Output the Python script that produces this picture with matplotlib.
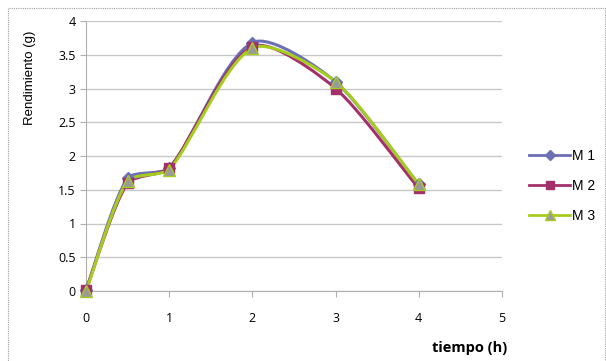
import numpy as np
import matplotlib.pyplot as plt
from matplotlib.path import Path
from matplotlib.patches import PathPatch, Rectangle
from matplotlib.lines import Line2D

tiempo = [0, 0.5, 1, 2, 3, 4]
m1 = [0.02, 1.67, 1.82, 3.68, 3.10, 1.58]
m2 = [0.02, 1.60, 1.82, 3.62, 3.00, 1.52]
m3 = [0.00, 1.63, 1.80, 3.60, 3.10, 1.58]
series = ['M 1', 'M 2', 'M 3']

# pixels per data unit, used so the smoothing works in screen proportions
SX, SY = 416 / 5, 270 / 4


def smooth_path(x, y, k=0.22):
    # smoothed line: cubic Bezier segments, handle length tied to segment length
    p = np.column_stack([np.asarray(x) * SX, np.asarray(y) * SY]).astype(float)
    n = len(p)
    tang = []
    for i in range(n):
        a = p[max(i - 1, 0)]
        b = p[min(i + 1, n - 1)]
        d = b - a
        tang.append(d / np.hypot(*d))
    verts = [p[0]]
    codes = [Path.MOVETO]
    for i in range(n - 1):
        L = np.hypot(*(p[i + 1] - p[i]))
        c1 = p[i] + tang[i] * L * k
        c2 = p[i + 1] - tang[i + 1] * L * k
        verts += [c1, c2, p[i + 1]]
        codes += [Path.CURVE4] * 3
    verts = np.array(verts) / [SX, SY]
    return Path(verts, codes)


plt.rcParams['font.family'] = ['Open Sans', 'DejaVu Sans']

fig = plt.figure(figsize=(6.06, 3.61), dpi=100)
ax = fig.add_axes([86 / 606, 1 - 291 / 361, 416 / 606, 270 / 361])

# dotted frame around the chart
fig.patches.append(Rectangle((8 / 606, -0.05), 0.985, 1 - 8 / 361 + 0.05,
                             transform=fig.transFigure, fill=False,
                             edgecolor='#a0a0a0', linestyle=(0, (1, 1)),
                             linewidth=0.8))

styles = [
    dict(color='#6b6fb3', marker='D', mfc='#6b6fb3', mec='#6b6fb3', ms=6),
    dict(color='#a3306b', marker='s', mfc='#a3306b', mec='#a3306b', ms=7),
    dict(color='#a6cc1e', marker='^', mfc='#9a9a9a', mec='#a6cc1e', ms=8),
]

handles = []
for vals, st, name in zip([m1, m2, m3], styles, series):
    ax.add_patch(PathPatch(smooth_path(tiempo, vals), fill=False,
                           edgecolor=st['color'], linewidth=2.2, zorder=3,
                           clip_on=False, capstyle='butt'))
    ax.plot(tiempo, vals, linestyle='none', marker=st['marker'],
            mfc=st['mfc'], mec=st['mec'], ms=st['ms'], mew=1, zorder=4,
            clip_on=False)
    handles.append(Line2D([], [], color=st['color'], linewidth=2,
                          marker=st['marker'], mfc=st['mfc'], mec=st['mec'],
                          ms=st['ms'] - 1, label=name))

ax.set_xlim(0, 5)
ax.set_ylim(0, 4)
ax.set_xticks(range(0, 6))
ax.set_yticks(np.arange(0, 4.01, 0.5))
ax.set_yticklabels(['0', '0.5', '1', '1.5', '2', '2.5', '3', '3.5', '4'])
ax.grid(axis='y', color='#c8c8c8', linewidth=1)
ax.set_axisbelow(True)
for s in ['top', 'right']:
    ax.spines[s].set_visible(False)
ax.spines['left'].set_color('#b0b0b0')
ax.spines['bottom'].set_color('#b0b0b0')
ax.tick_params(axis='both', colors='#b0b0b0', labelcolor='black',
               labelsize=9, length=4)
ax.tick_params(axis='x', pad=11)

ax.set_ylabel('Rendimiento (g)', fontsize=9.5, family=['Liberation Sans'])
ax.yaxis.set_label_coords(-0.12, 0.79)
fig.text(507 / 606, 0.018, 'tiempo (h)', fontsize=10.5, fontweight='bold',
         ha='right', va='bottom')

fig.legend(handles=handles, loc='center left', bbox_to_anchor=(0.853, 0.485),
           frameon=False, prop={'family': 'Liberation Sans', 'size': 10},
           handlelength=2.9, handletextpad=0.15, labelspacing=1.15)

fig.savefig('out.png', dpi=100)
